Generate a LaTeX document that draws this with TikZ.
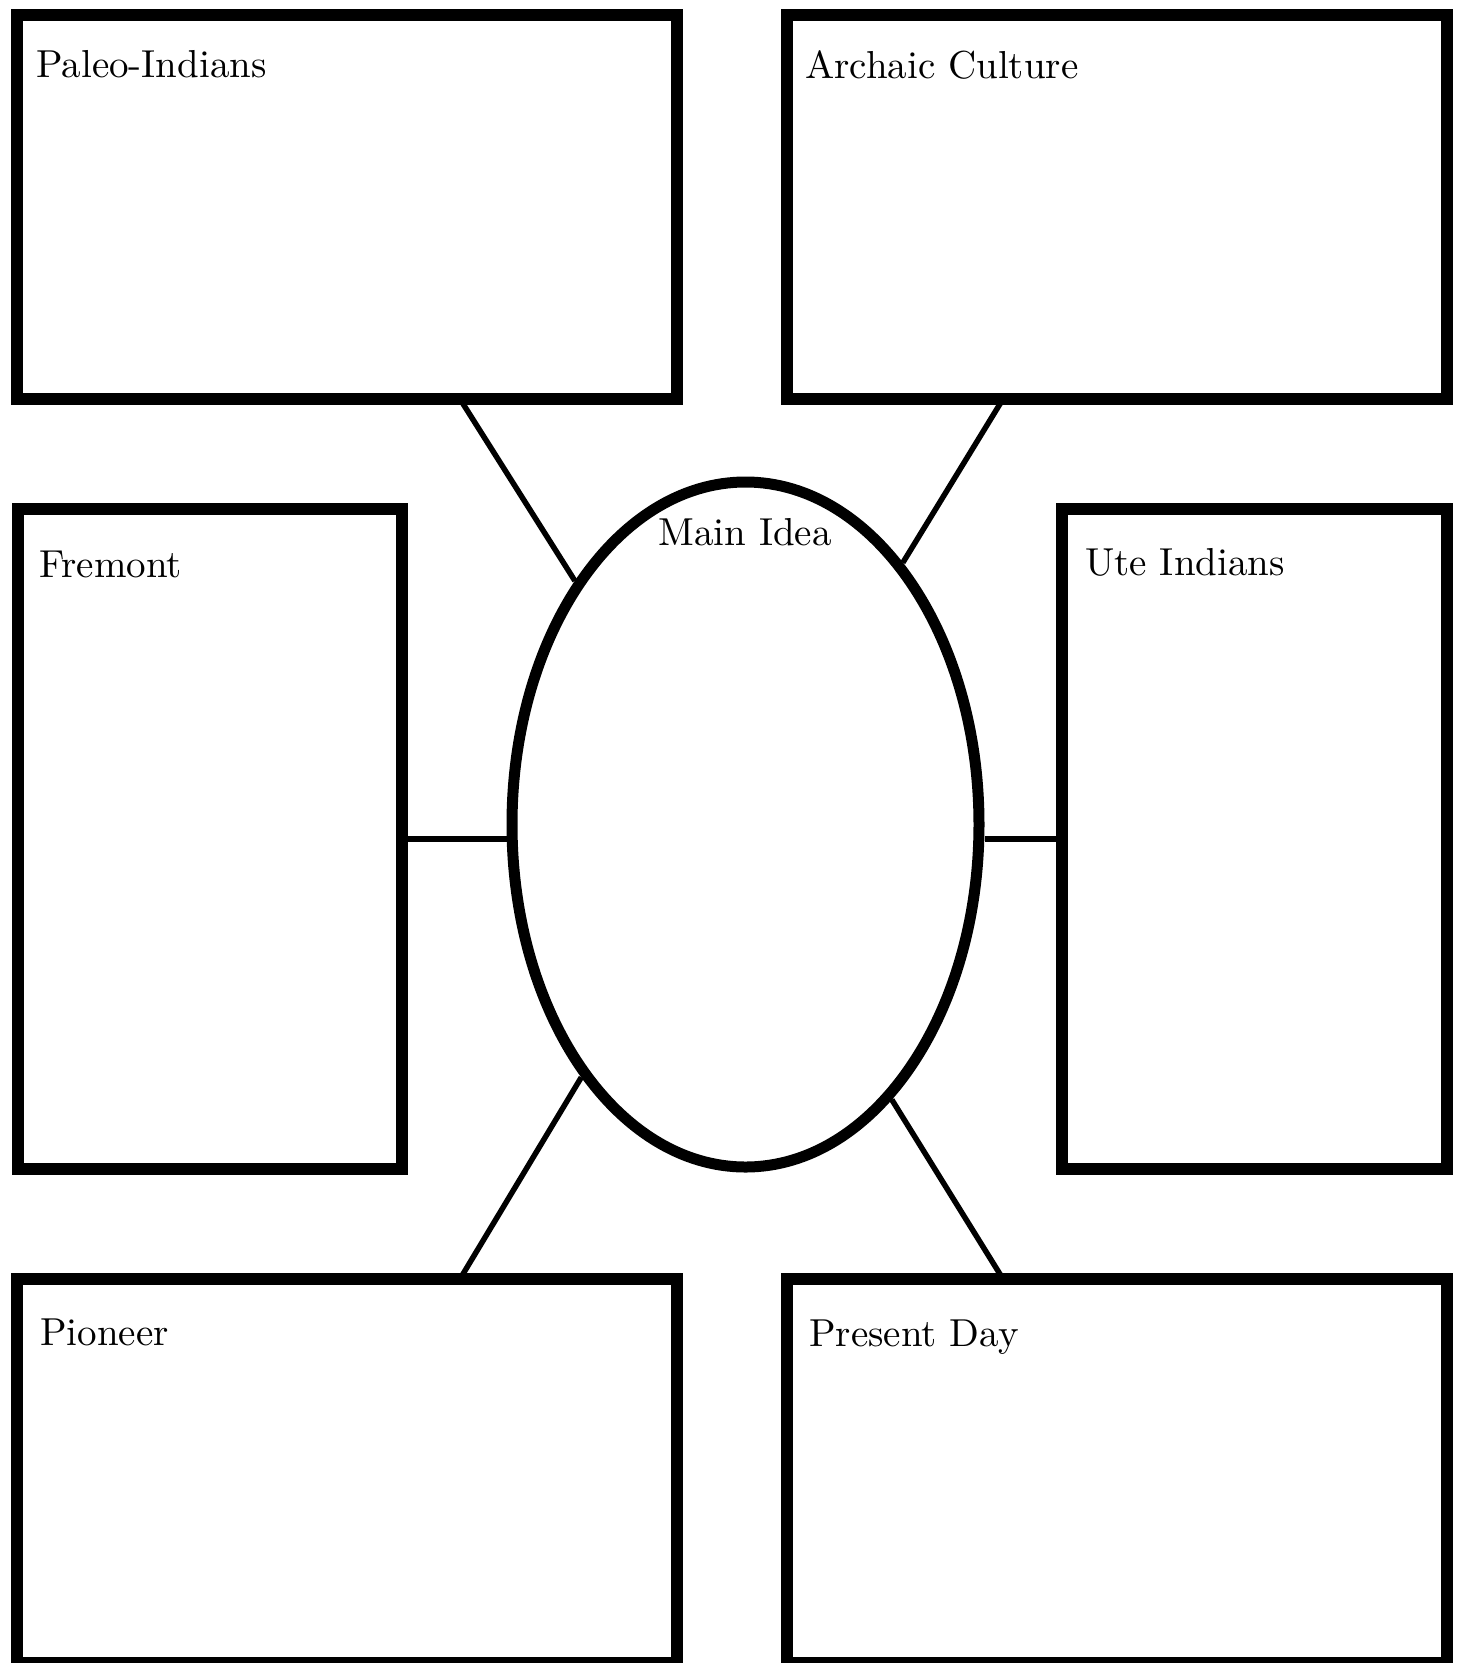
\documentclass[tikz,border=0pt]{standalone}
\usepackage{fontspec}
\setmainfont{lmroman10-regular}[Extension=.otf]
\usetikzlibrary{shapes.geometric}
\begin{document}
\begin{tikzpicture}[x=1pt,y=-1pt,
  boxnode/.style={draw=black, line width=12pt, rectangle, inner sep=0pt},
  mainoval/.style={draw=black, line width=11pt, ellipse, inner sep=0pt,
    minimum width=467pt, minimum height=685pt},
  conn/.style={draw=black, line width=5.5pt},
  lbl/.style={anchor=base west, inner sep=0pt, font=\fontsize{39}{46}\selectfont},
  mainlbl/.style={anchor=base, inner sep=0pt, font=\fontsize{39}{46}\selectfont}]
\useasboundingbox (0,0) rectangle (1460,1663);
\fill[white] (0,0) rectangle (1460,1663);

% connector free ends on the boxes
\coordinate (cp) at (460,399);
\coordinate (ca) at (1003,399);
\coordinate (cn) at (460,1279);
\coordinate (cd) at (1003,1279);

% central oval
\node[mainoval] (main) at (745.5,824.5) {};

% boxes
\node[boxnode, minimum width=660pt, minimum height=384.5pt] (paleo) at (347,206.75) {};
\node[boxnode, minimum width=660pt, minimum height=384.5pt] (archaic) at (1117,206.75) {};
\node[boxnode, minimum width=384.5pt, minimum height=660pt] (fremont) at (209.75,839) {};
\node[boxnode, minimum width=385pt, minimum height=660pt] (ute) at (1254.5,839) {};
\node[boxnode, minimum width=660pt, minimum height=384pt] (pioneer) at (347,1471) {};
\node[boxnode, minimum width=660pt, minimum height=384pt] (present) at (1117,1471) {};

% connectors
\draw[conn] (cp) -- (main.125.3);
\draw[conn] (ca) -- (main.59.2);
\draw[conn] (fremont.east) -- (fremont.east -| main.west);
\draw[conn] (ute.west) -- (ute.west -| main.east);
\draw[conn] (cn) -- (main.237);
\draw[conn] (cd) -- (main.298.6);

% labels
\node[lbl] (tpaleo) at (36,77) {Paleo-Indians};
\node[lbl] (tarchaic) at (805,78) {Archaic Culture};
\node[lbl] (tfremont) at (39,577) {Fremont};
\node[lbl] (tute) at (1085,575) {Ute Indians};
\node[mainlbl] (tmain) at (745,545) {Main Idea};
\node[lbl] (tpioneer) at (40,1345) {Pioneer};
\node[lbl] (tpresent) at (809,1346) {Present Day};
\end{tikzpicture}
\end{document}
